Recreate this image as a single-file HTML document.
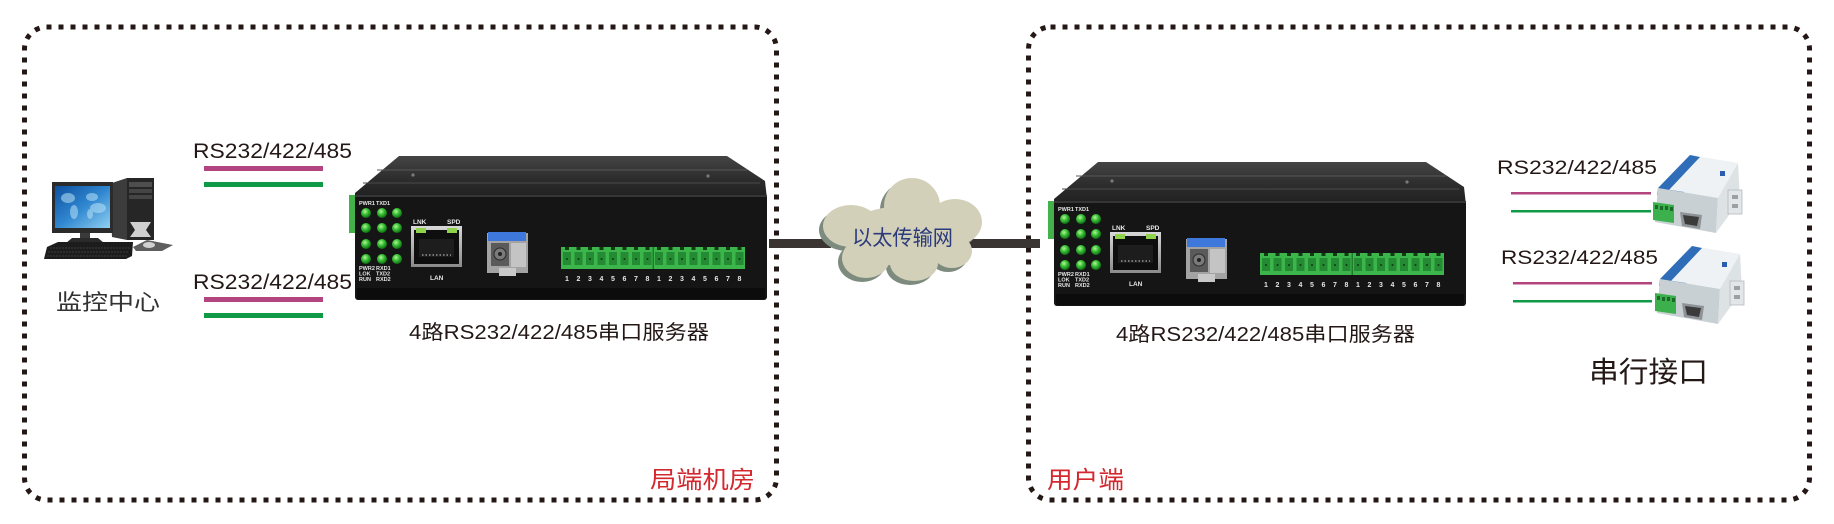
<!DOCTYPE html>
<html>
<head>
<meta charset="utf-8">
<style>
html,body{margin:0;padding:0;background:#fff;}
svg{display:block;}
text{font-family:"Liberation Sans","Noto Sans CJK SC",sans-serif;}
</style>
</head>
<body>
<svg width="1834" height="524" viewBox="0 0 1834 524" xmlns="http://www.w3.org/2000/svg">
<defs>
  <linearGradient id="topg" x1="0" y1="0" x2="0" y2="1">
    <stop offset="0" stop-color="#454545"/>
    <stop offset="0.5" stop-color="#2e2e2e"/>
    <stop offset="1" stop-color="#1f1f1f"/>
  </linearGradient>
  <radialGradient id="led" cx="0.4" cy="0.35" r="0.7">
    <stop offset="0" stop-color="#b6f59a"/>
    <stop offset="0.45" stop-color="#36c033"/>
    <stop offset="1" stop-color="#0c5e12"/>
  </radialGradient>
  <linearGradient id="scr" x1="0" y1="0" x2="1" y2="1">
    <stop offset="0" stop-color="#0d4f9e"/>
    <stop offset="0.5" stop-color="#2f86cf"/>
    <stop offset="1" stop-color="#8fd0f2"/>
  </linearGradient>
  <linearGradient id="silver" x1="0" y1="0" x2="0" y2="1">
    <stop offset="0" stop-color="#d8d8d8"/>
    <stop offset="1" stop-color="#8a8a8a"/>
  </linearGradient>

  <!-- device shapes (no text) -->
  <g id="dev">
    <rect x="-6" y="40" width="9" height="38" fill="#45b14b"/>
    <path d="M0,44 L0,38 L44,1 L372,1 L410,26 L412,44 Z" fill="url(#topg)"/>
    <path d="M22,15 L392,15" stroke="#585858" stroke-width="1"/>
    <path d="M8,28 L405,28" stroke="#4a4a4a" stroke-width="1"/>
    <circle cx="58" cy="20" r="1.6" fill="#7a7a7a"/>
    <circle cx="353" cy="21" r="1.6" fill="#7a7a7a"/>
    <rect x="0" y="40" width="412" height="105" rx="3" fill="#151515"/>
    <rect x="0" y="40" width="412" height="2" fill="#353535"/>
    <rect x="2" y="133" width="408" height="11" fill="#0c0c0c"/>
    <!-- LEDs -->
    <g fill="url(#led)">
      <circle cx="11" cy="58" r="5"/><circle cx="27" cy="58" r="5"/><circle cx="42" cy="58" r="5"/>
      <circle cx="11" cy="73" r="5"/><circle cx="27" cy="73" r="5"/><circle cx="42" cy="73" r="5"/>
      <circle cx="11" cy="89" r="5"/><circle cx="27" cy="89" r="5"/><circle cx="42" cy="89" r="5"/>
      <circle cx="11" cy="104" r="5"/><circle cx="27" cy="104" r="5"/><circle cx="42" cy="104" r="5"/>
    </g>
    <!-- RJ45 -->
    <rect x="56" y="71" width="51" height="41" fill="url(#silver)"/>
    <rect x="59" y="75" width="45" height="34" fill="#0e0e0e"/>
    <rect x="61" y="73" width="10" height="5" fill="#8fd24c"/>
    <rect x="92" y="73" width="10" height="5" fill="#8fd24c"/>
    <rect x="64" y="84" width="35" height="18" fill="#1d1d1d"/>
    <path d="M67,100 h29" stroke="#777" stroke-width="2" stroke-dasharray="1.5 2"/>
    <!-- SFP -->
    <rect x="132" y="78" width="41" height="40" fill="#a3a3a3"/>
    <rect x="133" y="77" width="38" height="9" fill="#3d78da"/>
    <rect x="136" y="88" width="18" height="23" fill="#5a5a5a"/>
    <circle cx="145" cy="99" r="6" fill="#7a7a7a" stroke="#2a2a2a" stroke-width="1"/>
    <circle cx="145" cy="99" r="2" fill="#222"/>
    <rect x="156" y="88" width="15" height="24" fill="#c4c4c4"/>
    <rect x="144" y="113" width="17" height="8" fill="#c8c8c8"/>
    <!-- terminal block -->
    <rect x="206" y="92" width="184" height="22" fill="#3cb54a"/>
    <rect x="297.5" y="92" width="1.5" height="22" fill="#1f7a2a"/>
    <g id="pins" fill="#248a33">
      <rect x="208" y="97" width="8" height="13"/><rect x="219.5" y="97" width="8" height="13"/>
      <rect x="231" y="97" width="8" height="13"/><rect x="242.5" y="97" width="8" height="13"/>
      <rect x="254" y="97" width="8" height="13"/><rect x="265.5" y="97" width="8" height="13"/>
      <rect x="277" y="97" width="8" height="13"/><rect x="288.5" y="97" width="8" height="13"/>
      <rect x="300" y="97" width="8" height="13"/><rect x="311.5" y="97" width="8" height="13"/>
      <rect x="323" y="97" width="8" height="13"/><rect x="334.5" y="97" width="8" height="13"/>
      <rect x="346" y="97" width="8" height="13"/><rect x="357.5" y="97" width="8" height="13"/>
      <rect x="369" y="97" width="8" height="13"/><rect x="380.5" y="97" width="8" height="13"/>
    </g>
    <g fill="#0d3d12">
      <rect x="210" y="92" width="4" height="3"/><rect x="221.5" y="92" width="4" height="3"/>
      <rect x="233" y="92" width="4" height="3"/><rect x="244.5" y="92" width="4" height="3"/>
      <rect x="256" y="92" width="4" height="3"/><rect x="267.5" y="92" width="4" height="3"/>
      <rect x="279" y="92" width="4" height="3"/><rect x="290.5" y="92" width="4" height="3"/>
      <rect x="302" y="92" width="4" height="3"/><rect x="313.5" y="92" width="4" height="3"/>
      <rect x="325" y="92" width="4" height="3"/><rect x="336.5" y="92" width="4" height="3"/>
      <rect x="348" y="92" width="4" height="3"/><rect x="359.5" y="92" width="4" height="3"/>
      <rect x="371" y="92" width="4" height="3"/><rect x="382.5" y="92" width="4" height="3"/>
      <circle cx="212" cy="104" r="1"/><circle cx="223.5" cy="104" r="1"/>
      <circle cx="235" cy="104" r="1"/><circle cx="246.5" cy="104" r="1"/>
      <circle cx="258" cy="104" r="1"/><circle cx="269.5" cy="104" r="1"/>
      <circle cx="281" cy="104" r="1"/><circle cx="292.5" cy="104" r="1"/>
      <circle cx="304" cy="104" r="1"/><circle cx="315.5" cy="104" r="1"/>
      <circle cx="327" cy="104" r="1"/><circle cx="338.5" cy="104" r="1"/>
      <circle cx="350" cy="104" r="1"/><circle cx="361.5" cy="104" r="1"/>
      <circle cx="373" cy="104" r="1"/><circle cx="384.5" cy="104" r="1"/>
    </g>
  </g>

  <!-- converter shapes -->
  <g id="conv">
    <polygon points="1690,155 1738,163 1718,198 1658,188" fill="#eef2f4"/>
    <polygon points="1690,155 1700,157 1668,191 1658,188" fill="#2f6db8"/>
    <polygon points="1658,188 1684,192 1682,199 1657,195" fill="#3f7cc2"/>
    <polygon points="1658,188 1718,198 1716,233 1655,222" fill="#c9d0d4"/>
    <polygon points="1718,198 1738,163 1740,200 1716,233" fill="#dde2e5"/>
    <rect x="1728" y="190" width="14" height="24" fill="#e3e6e8" stroke="#b5babd" stroke-width="0.8"/>
    <rect x="1732" y="195" width="6" height="4" fill="#9aa0a4"/>
    <rect x="1732" y="204" width="6" height="4" fill="#9aa0a4"/>
    <rect x="1720" y="171" width="5" height="5" fill="#2a5db0"/>
    <polygon points="1653,202 1674,205 1674,223 1653,220" fill="#3db04e"/>
    <g fill="#1c6a28">
      <rect x="1655" y="205" width="3" height="4"/><rect x="1660" y="206" width="3" height="4"/>
      <rect x="1665" y="206" width="3" height="4"/><rect x="1670" y="207" width="3" height="4"/>
    </g>
    <polygon points="1680,212 1702,215 1700,229 1682,226" fill="#8f9397"/>
    <polygon points="1683,215 1699,217 1697,226 1685,224" fill="#3b3b3b"/>
  </g>
</defs>

<!-- dotted boxes -->
<rect x="24.5" y="27" width="752" height="473" rx="22" fill="none" stroke="#231815" stroke-width="5" stroke-dasharray="5 7"/>
<rect x="1028.5" y="27" width="781" height="473" rx="22" fill="none" stroke="#231815" stroke-width="5" stroke-dasharray="5 7"/>

<!-- computer -->
<g>
  <polygon points="109,184 127,178 127,240 112,237" fill="#3c3c3c"/>
  <rect x="127" y="178" width="27" height="62" fill="#262626"/>
  <rect x="129" y="182" width="23" height="5" fill="#4e4e4e"/>
  <rect x="129" y="189" width="23" height="4" fill="#454545"/>
  <rect x="129" y="195" width="23" height="4" fill="#454545"/>
  <path d="M130,222 L151,222 L146,230 L151,237 L130,237 L135,230 Z" fill="#cfcfcf"/>
  <rect x="52" y="182" width="61" height="51" fill="#2b2b2b"/>
  <rect x="55" y="186" width="55" height="42" fill="url(#scr)"/>
  <g fill="#b9e2f7" opacity="0.55">
    <ellipse cx="68" cy="198" rx="7" ry="5"/>
    <ellipse cx="74" cy="212" rx="4" ry="7"/>
    <ellipse cx="92" cy="197" rx="6" ry="4"/>
    <ellipse cx="98" cy="208" rx="8" ry="5"/>
    <ellipse cx="90" cy="214" rx="3" ry="5"/>
  </g>
  <rect x="80" y="233" width="10" height="6" fill="#3a3a3a"/>
  <polygon points="66,243 72,238 98,238 104,243" fill="#2a2a2a"/>
  <polygon points="44,259 47,247 58,242 133,242 132,256 126,259" fill="#1c1c1c"/>
  <path d="M50,248 H130 M48,252 H129 M47,256 H127" stroke="#3c3c3c" stroke-width="1" stroke-dasharray="2 1"/>
  <polygon points="133,247 147,240 173,245 162,251 136,251" fill="#5e5e5e"/>
  <ellipse cx="149" cy="245" rx="6" ry="3" fill="#d0d0d0"/>
</g>

<text x="56" y="310" font-size="22" fill="#333" textLength="104" lengthAdjust="spacingAndGlyphs">监控中心</text>

<!-- left RS labels and lines -->
<text x="193" y="158" font-size="21" fill="#231815" textLength="159" lengthAdjust="spacingAndGlyphs">RS232/422/485</text>
<rect x="204" y="166" width="119" height="5" fill="#b2457f"/>
<rect x="204" y="182" width="119" height="5" fill="#109a48"/>
<text x="193" y="289" font-size="21" fill="#231815" textLength="159" lengthAdjust="spacingAndGlyphs">RS232/422/485</text>
<rect x="204" y="297" width="119" height="5" fill="#b2457f"/>
<rect x="204" y="313" width="119" height="5" fill="#109a48"/>

<!-- network lines -->
<rect x="769" y="239" width="62" height="9" fill="#3a3532"/>
<rect x="955" y="239" width="85" height="9" fill="#3a3532"/>

<!-- cloud -->
<g transform="translate(-4,4)" fill="#7d8b7f">
  <ellipse cx="905" cy="236" rx="62" ry="30"/>
  <circle cx="912" cy="206" r="28"/>
  <ellipse cx="851" cy="226" rx="28" ry="21"/>
  <ellipse cx="955" cy="222" rx="27" ry="23"/>
  <ellipse cx="866" cy="258" rx="24" ry="20"/>
  <ellipse cx="914" cy="263" rx="24" ry="18"/>
  <ellipse cx="952" cy="251" rx="20" ry="17"/>
</g>
<g fill="#d3d0ba">
  <ellipse cx="905" cy="236" rx="62" ry="30"/>
  <circle cx="912" cy="206" r="28"/>
  <ellipse cx="851" cy="226" rx="28" ry="21"/>
  <ellipse cx="955" cy="222" rx="27" ry="23"/>
  <ellipse cx="866" cy="258" rx="24" ry="20"/>
  <ellipse cx="914" cy="263" rx="24" ry="18"/>
  <ellipse cx="952" cy="251" rx="20" ry="17"/>
</g>
<text x="852" y="245" font-size="21" fill="#2b3a7a" textLength="101" lengthAdjust="spacingAndGlyphs">以太传输网</text>

<!-- left device -->
<use href="#dev" transform="translate(355,155)"/>
<g transform="translate(355,155)" fill="#e6e6e6" font-size="5.5" font-weight="bold">
  <text x="4" y="50">PWR1</text><text x="21" y="50">TXD1</text>
  <text x="4" y="115">PWR2</text><text x="21" y="115">RXD1</text>
  <text x="4" y="120.5">LOK</text><text x="21" y="120.5">TXD2</text>
  <text x="4" y="126">RUN</text><text x="21" y="126">RXD2</text>
  <text x="58" y="69" font-size="6.5">LNK</text><text x="92" y="69" font-size="6.5">SPD</text>
  <text x="75" y="125" font-size="6.5">LAN</text>
  <text x="212 223.5 235 246.5 258 269.5 281 292.5 304 315.5 327 338.5 350 361.5 373 384.5" y="126" font-size="7" text-anchor="middle">1234567812345678</text>
</g>
<text x="409" y="339" font-size="20" fill="#231815" textLength="300" lengthAdjust="spacingAndGlyphs">4路RS232/422/485串口服务器</text>

<!-- right device -->
<use href="#dev" transform="translate(1054,161)"/>
<g transform="translate(1054,161)" fill="#e6e6e6" font-size="5.5" font-weight="bold">
  <text x="4" y="50">PWR1</text><text x="21" y="50">TXD1</text>
  <text x="4" y="115">PWR2</text><text x="21" y="115">RXD1</text>
  <text x="4" y="120.5">LOK</text><text x="21" y="120.5">TXD2</text>
  <text x="4" y="126">RUN</text><text x="21" y="126">RXD2</text>
  <text x="58" y="69" font-size="6.5">LNK</text><text x="92" y="69" font-size="6.5">SPD</text>
  <text x="75" y="125" font-size="6.5">LAN</text>
  <text x="212 223.5 235 246.5 258 269.5 281 292.5 304 315.5 327 338.5 350 361.5 373 384.5" y="126" font-size="7" text-anchor="middle">1234567812345678</text>
</g>
<text x="1116" y="341" font-size="20" fill="#231815" textLength="299" lengthAdjust="spacingAndGlyphs">4路RS232/422/485串口服务器</text>

<!-- right RS labels, lines and converters -->
<text x="1497" y="174" font-size="19" fill="#231815" textLength="160" lengthAdjust="spacingAndGlyphs">RS232/422/485</text>
<rect x="1511" y="192" width="140" height="2.5" fill="#b2457f"/>
<rect x="1511" y="210" width="140" height="2.5" fill="#109a48"/>
<use href="#conv"/>

<text x="1501" y="264" font-size="19" fill="#231815" textLength="157" lengthAdjust="spacingAndGlyphs">RS232/422/485</text>
<rect x="1513" y="282" width="139" height="2.5" fill="#b2457f"/>
<rect x="1513" y="300" width="139" height="2.5" fill="#109a48"/>
<use href="#conv" transform="translate(2,91)"/>

<text x="1589" y="382" font-size="29" fill="#231815" textLength="119" lengthAdjust="spacingAndGlyphs">串行接口</text>

<!-- zone labels -->
<text x="650" y="488" font-size="24" fill="#d4282f" textLength="105" lengthAdjust="spacingAndGlyphs">局端机房</text>
<text x="1047" y="488" font-size="24" fill="#d4282f" textLength="77" lengthAdjust="spacingAndGlyphs">用户端</text>
</svg>
</body>
</html>
